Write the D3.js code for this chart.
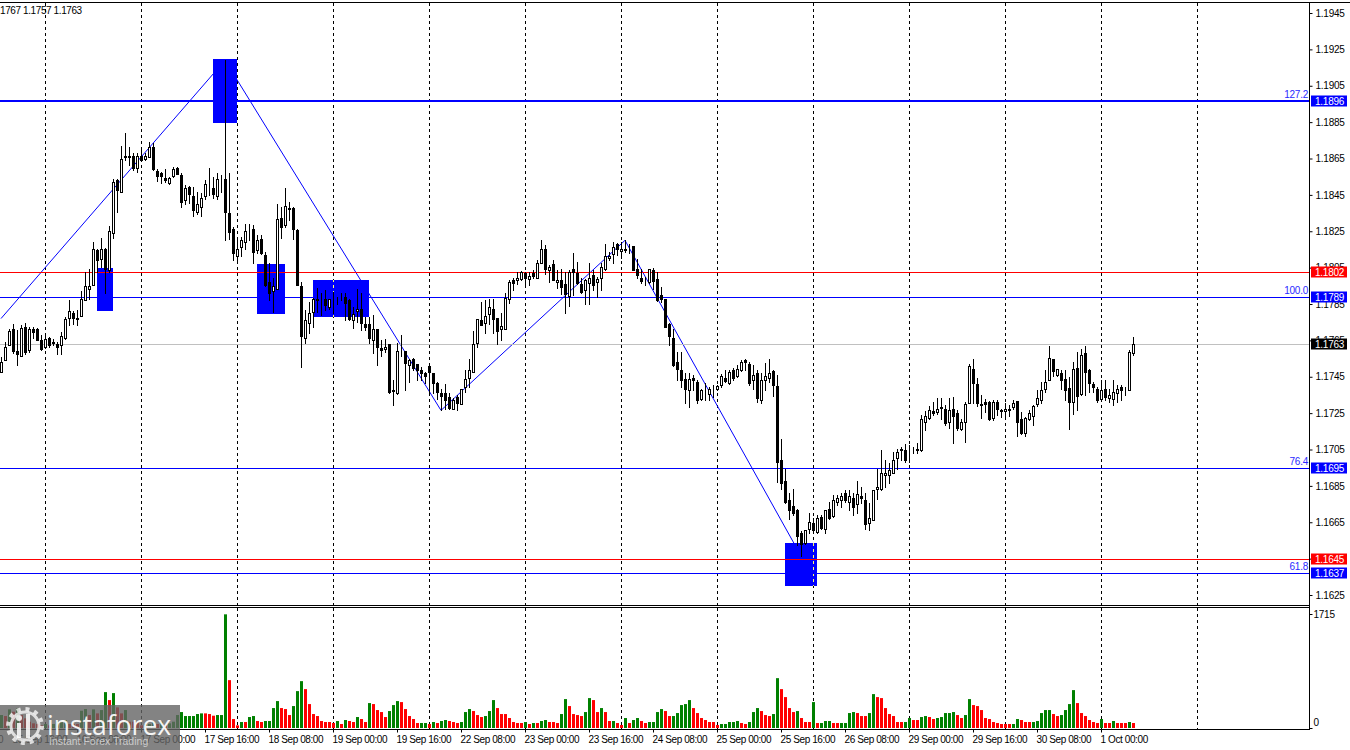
<!DOCTYPE html>
<html><head><meta charset="utf-8">
<script src="https://cdnjs.cloudflare.com/ajax/libs/d3/7.8.5/d3.min.js"></script>
<style>
html,body{margin:0;padding:0;background:#fff;overflow:hidden}
svg{display:block}
text{font-family:"Liberation Sans",Arial,sans-serif;font-size:10px;letter-spacing:-.25px}
</style></head><body><svg id="c" width="1350" height="750"></svg>
<script>
// All prices are written as pips above 1.0000 (price = 1 + value / 10000)
const opens=[
1747.5,1754,1762.5,1771,1759,1756.5,1772.5,1759.5,1771,1771,
1765,1761.5,1766.5,1764,1763,1762.5,1766.5,1777.5,1780,1776.5,
1778.5,1787,1793.5,1795.5,1814.5,1810,1815.5,1803.5,1824,1853,
1846.5,1866.5,1866.5,1866.5,1860,1866.5,1865,1866,1871.5,1858,
1857,1854.5,1851.5,1855.5,1860,1856,1842,1849.5,1844.5,1835.5,
1838.5,1844.5,1850,1849,1844.5,1853,1854,1835,1826,1811.5,
1816.5,1819,1826,1826.5,1814.5,1821,1812,1797,1792,1793.5,
1832.5,1828.5,1838,1838,1825.5,1795,1766.5,1774.5,1780.5,1788,
1788,1788,1783.5,1788,1787,1787.5,1789,1787,1776,1781,
1782.5,1774,1774,1765,1771.5,1761,1760.5,1763,1737.5,1736,
1757.5,1759,1751.5,1754.5,1752,1748.5,1747,1751,1747,1741.5,
1736,1736,1734,1727,1734,1730,1739.5,1744.5,1747.5,1763.5,
1776,1774.5,1779.5,1782.5,1777.5,1771,1771.5,1787.5,1798,1798,
1798.5,1802,1798.5,1802,1799.5,1807.5,1815,1803.5,1807,1797,
1798,1796,1789.5,1804,1802,1796,1792.5,1796.5,1801,1797,
1799.5,1804.5,1810.5,1812.5,1818,1814,1815.5,1815,1817,1804.5,
1799.5,1797,1797,1803.5,1798.5,1790,1787.5,1774,1766.5,1753,
1748.5,1743.5,1737.5,1744.5,1742,1733,1737,1735.5,1737.5,1738.5,
1740.5,1744.5,1741.5,1748.5,1745.5,1748.5,1754,1752,1743,1747,
1732,1743,1744.5,1748,1740,1699.5,1687.5,1677.5,1674,1671.5,
1659,1653.5,1661.5,1664.5,1659.5,1668,1661.5,1672.5,1668.5,1676,
1677,1681,1676,1678.5,1675,1679.5,1677.5,1664.5,1666.5,1683.5,
1683.5,1691,1691,1692,1700.5,1704.5,1704.5,1703.5,1704.5,1705.5,
1705,1720,1722.5,1726,1725.5,1728,1727.5,1720,1727.5,1725,
1716.5,1720,1730.5,1749.5,1741,1730,1731,1731,1722.5,1731,
1726.5,1726,1726.5,1728.5,1731.5,1721.5,1714,1721.5,1723.5,1730,
1732,1738,1743,1754.5,1746,1747,1743.5,1739,1731,1750,
1735.5,1758,1748.5,1741,1738.5,1733,1738.5,1733.5,1733,1736,
1739.5,1738.5,1737.5,1758];
const highs=[
1756,1764,1771.5,1774,1770.5,1773.5,1774.5,1772.5,1772.5,1772,
1768,1767.5,1767,1765.5,1764,1769.5,1778,1787,1781,1781.5,
1792,1802.5,1804,1819,1815.5,1821.5,1816,1828,1854,1854,
1872,1879,1871.5,1868,1868,1871.5,1868,1874,1873.5,1859.5,
1857.5,1859.5,1855,1860.5,1860.5,1857,1850.5,1850,1849.5,1846.5,
1846,1853,1860,1855,1857,1856,1919,1857,1827.5,1822,
1822,1829,1829,1828.5,1823,1823,1813.5,1807.5,1799.5,1840,
1838.5,1849,1841,1838.5,1826,1797,1781.5,1786,1788.5,1794,
1791,1792.5,1788,1791.5,1789,1791,1791,1788,1783.5,1793,
1791,1778,1778,1779,1771.5,1765,1765.5,1763,1743,1763.5,
1768,1759,1755,1755.5,1752,1750.5,1747.5,1751.5,1747,1742,
1738.5,1741,1736,1733.5,1735,1738.5,1748.5,1754.5,1770,1776.5,
1786,1787,1787.5,1787.5,1777.5,1780,1791,1798,1799.5,1802.5,
1803,1802.5,1802.5,1803.5,1809,1820,1817.5,1806.5,1809,1803.5,
1804.5,1802.5,1803.5,1813,1808,1799.5,1799,1807.5,1803.5,1800,
1807.5,1818,1813.5,1819,1818.5,1819,1820,1818,1817,1810,
1804.5,1800,1804.5,1805,1802.5,1794.5,1787.5,1774.5,1771.5,1758.5,
1758.5,1747,1747,1746,1743,1738.5,1741.5,1739.5,1740.5,1740.5,
1746.5,1748.5,1748.5,1750,1751.5,1754,1754.5,1753,1751.5,1748.5,
1747,1752.5,1754.5,1748.5,1746,1710.5,1694.5,1681,1683.5,1672.5,
1660,1661,1670,1667.5,1669,1669,1671.5,1676,1680,1680,
1681,1682.5,1683,1681,1687.5,1684.5,1681,1675.5,1682.5,1694.5,
1704.5,1699,1697.5,1703.5,1705.5,1706.5,1708,1707.5,1706.5,1708.5,
1724,1726,1729,1731,1733.5,1733.5,1729.5,1733.5,1734,1726.5,
1722,1731,1752,1754.5,1744.5,1735,1733,1731.5,1732,1732,
1727.5,1730.5,1729.5,1732,1731.5,1725.5,1723,1726.5,1729.5,1737.5,
1742,1748.5,1762,1755,1749.5,1748.5,1748.5,1745,1753,1758.5,
1760.5,1762,1749.5,1742,1739.5,1743,1743,1738,1743,1740.5,
1740.5,1739.5,1759.5,1767];
const lows=[
1747.5,1754,1762.5,1758,1751.5,1756.5,1757.5,1758.5,1766.5,1765,
1759.5,1761,1761.5,1762.5,1757.5,1757.5,1766,1773.5,1774,1773.5,
1778.5,1787,1788,1795.5,1802.5,1805.5,1791,1802.5,1821.5,1835.5,
1846.5,1864,1861.5,1858.5,1857.5,1864,1864,1866,1858.5,1852.5,
1851.5,1852,1851,1855,1856.5,1838.5,1840,1840.5,1833.5,1834.5,
1833.5,1843,1845,1843.5,1842.5,1846.5,1820,1820.5,1809,1809,
1811.5,1815.5,1820,1807.5,1813,1812.5,1795,1787,1780.5,1793,
1821.5,1827.5,1831,1820.5,1795.5,1750.5,1763.5,1769,1772.5,1780.5,
1779,1781.5,1782,1780,1785,1787,1776,1776,1772,1775,
1770.5,1770.5,1763.5,1758,1751.5,1756.5,1758.5,1736,1729.5,1735.5,
1756.5,1737.5,1742,1748.5,1743,1743,1741.5,1736,1736,1732.5,
1726.5,1727.5,1727.5,1727,1726.5,1730,1736.5,1739.5,1747.5,1761.5,
1773.5,1769,1774,1769,1763,1765,1771.5,1785.5,1792.5,1796,
1798,1794.5,1795.5,1799.5,1799.5,1807.5,1801.5,1797,1798,1794,
1790.5,1780,1784,1790,1796,1791,1785,1785,1792.5,1789,
1792.5,1803.5,1809,1807.5,1812,1810.5,1813.5,1813,1803.5,1799.5,
1796.5,1795.5,1796.5,1793,1786.5,1786,1772.5,1762.5,1751,1743,
1739.5,1730.5,1728.5,1737.5,1730.5,1732,1732,1732,1734,1737.5,
1739.5,1742,1741,1743,1745,1748,1748.5,1740.5,1738.5,1731,
1730.5,1737.5,1742,1734.5,1687,1683.5,1675.5,1667,1669,1652.5,
1646.5,1653,1659,1659,1659,1661.5,1659,1667,1668,1674.5,
1673.5,1676,1671.5,1669,1670,1675.5,1661.5,1661,1666,1678,
1683,1684.5,1686.5,1692,1694.5,1699,1698,1698,1703,1703,
1704,1715.5,1722,1724,1724.5,1722,1718.5,1717,1708.5,1715.5,
1715.5,1709,1730.5,1730.5,1729,1722.5,1725.5,1721,1721,1724,
1723,1723.5,1723.5,1727.5,1712.5,1713.5,1712.5,1721,1718.5,1729,
1730.5,1736.5,1743,1745.5,1745.5,1738.5,1732,1716,1724.5,1726.5,
1735,1735,1736.5,1736.5,1731,1732,1732,1731,1729.5,1731,
1732,1735,1737.5,1757];
const closes=[
1753,1761.5,1770,1759,1757.5,1772,1758.5,1771.5,1769.5,1765,
1760,1765.5,1762.5,1763.5,1761.5,1767.5,1776.5,1781,1777.5,1777.5,
1787.5,1795,1795,1815,1809,1815,1804.5,1825,1852,1847.5,
1865,1866,1866,1860,1866.5,1864,1866.5,1871.5,1859,1855.5,
1855.5,1853,1854.5,1859,1856.5,1841,1849,1845.5,1836.5,1840,
1843.5,1851,1850,1845.5,1854,1853,1835.5,1824.5,1813,1815.5,
1820,1825,1826.5,1813.5,1820,1813,1795.5,1791,1795,1832,
1827.5,1839,1837,1826,1795.5,1767.5,1776,1780,1787.5,1787,
1787.5,1784.5,1787.5,1787.5,1787,1788,1785.5,1776.5,1779.5,1782,
1774.5,1772.5,1766.5,1771,1761.5,1759.5,1761.5,1736.5,1737,1759,
1757.5,1752.5,1754,1750,1748.5,1747,1745.5,1747.5,1741.5,1736.5,
1734.5,1732,1728,1732,1730.5,1738.5,1743.5,1748.5,1763,1776.5,
1773.5,1778.5,1783.5,1776.5,1770,1773,1788.5,1797,1796.5,1799.5,
1802.5,1799.5,1800.5,1800.5,1807.5,1815.5,1804.5,1805.5,1798,1798,
1794.5,1790.5,1802.5,1802.5,1796.5,1791.5,1798,1799.5,1795.5,1798.5,
1805.5,1811.5,1811.5,1816.5,1815,1815,1814.5,1815,1803.5,1801,
1797.5,1797,1804,1797.5,1787,1788,1772.5,1767.5,1751.5,1749,
1743,1738,1743.5,1743,1732,1737.5,1737,1738.5,1737.5,1740,
1745.5,1742.5,1747.5,1744.5,1749.5,1753,1753,1741.5,1746,1733.5,
1743,1745.5,1747,1740.5,1698,1686.5,1676,1672,1670,1657.5,
1653,1660.5,1665,1660.5,1667.5,1662,1671.5,1667.5,1677.5,1678.5,
1679.5,1677,1679.5,1673.5,1680.5,1678.5,1664,1667.5,1682.5,1684.5,
1692,1692,1693.5,1699.5,1703.5,1705.5,1699,1703.5,1704.5,1704.5,
1721.5,1723.5,1726.5,1725,1727.5,1728.5,1719.5,1726.5,1723.5,1717,
1720,1730,1751,1741.5,1730.5,1729.5,1730,1721.5,1731,1727,
1726,1727.5,1727.5,1730.5,1720,1714,1722.5,1725,1729,1733.5,
1737.5,1742,1755.5,1748,1749.5,1743,1737.5,1731,1749.5,1734.5,
1757,1747.5,1741.5,1739.5,1732,1737.5,1734,1735,1736.5,1738.5,
1737.5,1738.5,1758.5,1763];
const volumes=[
195,180,280,245,295,195,145,95,70,60,
40,60,40,60,100,110,120,60,60,60,
260,285,195,280,220,270,540,420,525,310,
220,270,95,95,90,40,60,60,95,60,
95,45,70,95,195,240,180,180,180,210,
220,220,210,185,195,195,1710,720,135,40,
90,90,165,180,105,90,105,105,300,405,
300,285,195,330,555,705,585,360,210,180,
105,90,90,75,105,60,120,105,90,165,
135,90,375,360,270,240,165,255,345,405,
390,285,180,135,75,75,75,60,90,75,
105,120,105,90,75,90,240,285,255,195,
165,180,255,420,300,210,210,150,90,75,
75,90,60,75,75,105,120,90,90,75,
210,435,330,210,195,180,240,450,420,240,
300,240,105,105,75,45,150,75,120,150,
105,75,90,90,240,285,255,180,180,225,
345,360,420,300,225,150,120,90,90,45,
60,60,90,90,105,75,60,90,240,300,
255,195,180,210,750,585,465,300,240,255,
150,90,90,390,75,75,105,105,75,75,
75,75,225,240,225,180,180,225,510,465,
450,300,210,180,90,90,90,150,120,120,
165,180,165,135,150,165,225,225,240,195,
150,195,435,345,330,270,150,135,90,75,
60,60,60,60,135,120,90,90,90,105,
225,270,270,210,180,195,270,360,570,375,
225,180,120,90,75,135,75,75,105,75,
75,75,90,75];
const volumeRising=[
1,0,1,0,1,0,0,0,0,0, 0,1,0,1,1,1,1,0,0,0, 1,1,0,1,0,1,1,0,1,0, 0,1,0,0,0,0,1,1,1,0,
1,0,1,1,1,1,1,1,1,1, 1,0,0,0,1,1,1,0,0,0, 1,0,1,1,0,0,1,1,1,1, 0,0,0,1,1,1,0,0,0,0,
0,0,0,0,1,0,1,0,0,1, 0,0,1,0,0,0,0,1,1,1, 0,0,0,0,0,1,1,0,1,0, 1,1,0,0,0,1,1,1,0,0,
0,1,1,1,0,0,0,0,0,0, 0,1,0,1,0,1,1,0,0,0, 1,1,0,0,0,0,1,1,0,0, 1,0,0,1,0,0,1,0,1,1,
0,0,1,1,1,1,0,0,1,1, 1,1,1,0,0,0,0,0,0,0, 1,1,1,1,1,0,0,1,1,1, 0,0,0,1,1,0,0,0,0,1,
0,0,0,1,0,1,1,1,0,0, 1,1,1,1,0,0,0,1,1,0, 0,0,0,0,0,0,1,1,0,0, 1,1,0,0,1,1,1,1,1,0,
0,1,1,0,0,0,0,0,0,0, 0,0,0,1,1,0,0,0,1,1, 1,1,1,0,0,1,1,1,1,0, 0,0,0,0,0,1,0,0,1,0,
0,0,1,0];

const priceTicks=[1945,1925,1905,1885,1865,1845,1825,1805,1785,1765,1745,1725,1705,1685,1665,1645,1625];
const timeTickBars=[-13,3,19,35,51,67,83,99,115,131,147,163,179,195,211,227,243,259,275];
const timeTickLabels=["15 Sep 00:00","15 Sep 16:00","16 Sep 08:00","17 Sep 00:00","17 Sep 16:00","18 Sep 08:00","19 Sep 00:00","19 Sep 16:00","22 Sep 08:00","23 Sep 00:00","23 Sep 16:00","24 Sep 08:00","25 Sep 00:00","25 Sep 16:00","26 Sep 08:00","29 Sep 00:00","29 Sep 16:00","30 Sep 08:00","1 Oct 00:00"];
const gridBars=[11,35,59,83,107,131,155,179,203,227,251,275,299];

// horizontal levels
const levelPrices=[1896.7,1802.6,1789,1763,1695,1645,1637];
const levelLabels=["1.1896","1.1802","1.1789","1.1763","1.1695","1.1645","1.1637"];
const levelKinds=["blue","red","blue","gray","blue","red","blue"];
const levelWeights=[2,1.2,1,1,1,1.2,1];
const levelFibo=["127.2","","100.0","","76.4","","61.8"];
// zigzag pivots
const zigBars=[0,56,110,156,200];
const zigPrices=[1777,1919,1726.5,1820,1646.5];
// zones: bar from, bar to, price top, price bottom
const zoneBar0=[24,53,64,78,196];
const zoneBar1=[28,59,71,92,204];
const zoneTop=[1804.8,1919.7,1807,1798,1653.7];
const zoneBot=[1781,1884.7,1779.6,1778,1629.8];

const colorOf={blue:"#0000ff",red:"#ff0000",gray:"#c0c0c0"};
const tagOf={blue:"#0000ff",red:"#ff0000",gray:"#000000"};

const svg=d3.select("#c");
const x=d3.scaleLinear().domain([0,283]).range([1,1133]);
const y=d3.scaleLinear().domain([1625,1945]).range([595,13]);
const yv=d3.scaleLinear().domain([0,1715]).range([728,614]);
const py=v=>Math.round(y(v));
const fontFamily='"Liberation Sans",Arial,sans-serif';

const defs=svg.append("defs");
defs.append("clipPath").attr("id","main").append("rect").attr("x",0).attr("y",3).attr("width",1309).attr("height",602);
defs.append("clipPath").attr("id","sub").append("rect").attr("x",0).attr("y",608).attr("width",1309).attr("height",121);
const zc=defs.append("clipPath").attr("id","zones");
const zones=zoneBar0.map((b,i)=>({b0:b,b1:zoneBar1[i],t:zoneTop[i],u:zoneBot[i]}));
zc.selectAll("rect").data(zones).join("rect")
 .attr("x",d=>x(d.b0)).attr("width",d=>x(d.b1)-x(d.b0)).attr("y",d=>py(d.t)).attr("height",d=>py(d.u)-py(d.t));

const main=svg.append("g").attr("clip-path","url(#main)");
const sub=svg.append("g").attr("clip-path","url(#sub)");

// grid
function grid(g,y0,y1,col){
 g.selectAll("line.g"+col.slice(1)).data(gridBars).join("line").attr("class","g"+col.slice(1))
  .attr("x1",d=>x(d)+.5).attr("x2",d=>x(d)+.5).attr("y1",y0).attr("y2",y1)
  .attr("stroke",col).attr("stroke-width",1).attr("stroke-dasharray","3,3");
}
grid(main,3,605,"#000000");
grid(sub,608,729,"#000000");

// zigzag
const zig=zigBars.map((b,i)=>[x(b),y(zigPrices[i])]);
main.append("path").attr("d",d3.line()(zig)).attr("fill","none").attr("stroke","#0000ff").attr("stroke-width",1);

// zones
main.append("g").selectAll("rect").data(zones).join("rect")
 .attr("x",d=>x(d.b0)).attr("width",d=>x(d.b1)-x(d.b0)).attr("y",d=>py(d.t)).attr("height",d=>py(d.u)-py(d.t)).attr("fill","#0000ff");
grid(main.append("g").attr("clip-path","url(#zones)"),3,605,"#ffff66");

// level lines
const levels=levelPrices.map((p,i)=>({p,n:levelLabels[i],k:levelKinds[i],w:levelWeights[i],f:levelFibo[i]}));
main.append("g").selectAll("line").data(levels).join("line")
 .attr("x1",0).attr("x2",1309)
 .attr("y1",d=>d.w==2?py(d.p):py(d.p)+.5).attr("y2",d=>d.w==2?py(d.p):py(d.p)+.5)
 .attr("stroke",d=>colorOf[d.k]).attr("stroke-width",d=>d.w);

// candles
const bars=opens.map((o,i)=>({i,o,h:highs[i],l:lows[i],c:closes[i]}));
const cg=main.append("g").selectAll("g").data(bars).join("g");
cg.append("line").attr("x1",d=>x(d.i)+.5).attr("x2",d=>x(d.i)+.5)
 .attr("y1",d=>py(d.h)).attr("y2",d=>py(d.l)+1).attr("stroke","#000");
cg.append("rect")
 .attr("x",d=>x(d.i)-.5).attr("width",2)
 .attr("y",d=>py(Math.max(d.o,d.c))+.5)
 .attr("height",d=>Math.max(0,py(Math.min(d.o,d.c))-py(Math.max(d.o,d.c))))
 .attr("fill",d=>d.c>=d.o?"#fff":"#000").attr("stroke","#000").attr("stroke-width",1);

// volumes
sub.append("g").selectAll("rect").data(volumes.map((v,i)=>({v,i,up:volumeRising[i]}))).join("rect")
 .attr("x",d=>x(d.i)-1).attr("width",3).attr("y",d=>yv(d.v)).attr("height",d=>yv(0)-yv(d.v))
 .attr("fill",d=>d.up?"#008000":"#ff0000");

// frame
const frame=[[0,2.5,1350,2.5],[0,605.5,1309,605.5],[0,607.5,1309,607.5],[0,729.5,1309,729.5],[1309.5,2,1309.5,730]];
svg.append("g").selectAll("line").data(frame).join("line")
 .attr("x1",d=>d[0]).attr("y1",d=>d[1]).attr("x2",d=>d[2]).attr("y2",d=>d[3]).attr("stroke","#000");

// price axis
const axP=svg.append("g").attr("transform","translate(1309.5,0)")
 .call(d3.axisRight(y).tickValues(priceTicks).tickSize(3).tickPadding(3).tickFormat(v=>(1+v/10000).toFixed(4)));
axP.select(".domain").remove();
axP.selectAll("text").attr("fill","#000").style("font-family",fontFamily).style("font-size","10px").attr("x",6);
axP.selectAll("line").attr("stroke","#000");

// volume axis
const axV=svg.append("g").attr("transform","translate(1309.5,0)")
 .call(d3.axisRight(yv).tickValues([1715,0]).tickSize(3).tickFormat(d3.format("d")));
axV.select(".domain").remove();
axV.selectAll("text").attr("fill","#000").style("font-family",fontFamily).style("font-size","10px").attr("x",4)
 .attr("dy",d=>d==0?"-0.25em":"0.32em");
axV.selectAll("line").attr("stroke","#000");

// time axis
const axT=svg.append("g").attr("transform","translate(0,729.5)")
 .call(d3.axisBottom(x).tickValues(timeTickBars).tickSize(3).tickFormat((d,i)=>timeTickLabels[i]));
axT.select(".domain").remove();
axT.selectAll("line").attr("stroke","#000");
axT.selectAll("text").attr("fill","#000").attr("text-anchor","start").attr("x",-1).attr("y",5).attr("dy","0.8em")
 .style("font-family",fontFamily).style("font-size","10px").style("letter-spacing","-.4px");

// price tags
const tags=svg.append("g").selectAll("g").data(levels).join("g").attr("transform",d=>`translate(1311,${py(d.p)-5.5})`);
tags.append("rect").attr("width",36).attr("height",11).attr("fill",d=>tagOf[d.k]);
tags.append("text").attr("x",4).attr("y",9).attr("fill","#fff").text(d=>d.n);
// fibo labels
svg.append("g").selectAll("text").data(levels.filter(d=>d.f)).join("text")
 .attr("x",1308).attr("y",d=>py(d.p)-3).attr("text-anchor","end").attr("fill","#2a2aff").text(d=>d.f);

// header
svg.append("text").attr("x",0).attr("y",14).attr("fill","#000").style("letter-spacing","-.4px").text("1767 1.1757 1.1763");

// watermark
const wm=svg.append("g");
wm.append("rect").attr("x",0).attr("y",705).attr("width",180).attr("height",45).attr("fill","#646464").attr("opacity",.8);
wm.append("circle").attr("cx",25).attr("cy",726).attr("r",14).attr("fill","none").attr("stroke","#fff").attr("stroke-width",3).attr("opacity",.75);
wm.append("circle").attr("cx",25).attr("cy",726).attr("r",17).attr("fill","none").attr("stroke","#fff").attr("stroke-width",4).attr("stroke-dasharray","4,4.9").attr("opacity",.75);
wm.append("circle").attr("cx",19).attr("cy",718).attr("r",3).attr("fill","#fff").attr("opacity",.85);
wm.append("rect").attr("x",17).attr("y",723).attr("width",4).attr("height",15).attr("fill","#fff").attr("opacity",.85);
wm.append("rect").attr("x",26).attr("y",714).attr("width",4).attr("height",24).attr("fill","#fff").attr("opacity",.85);
wm.append("text").attr("x",47).attr("y",735).attr("fill","#fff").attr("opacity",.92).style("font-family",'"Open Sans",sans-serif').style("font-size","26.5px").style("letter-spacing","0").text("instaforex");
wm.append("text").attr("x",49).attr("y",745).attr("fill","#d8d8d8").attr("opacity",.85).style("font-family",fontFamily).style("font-size","10.5px").style("letter-spacing","0").text("Instant Forex Trading");
</script></body></html>
